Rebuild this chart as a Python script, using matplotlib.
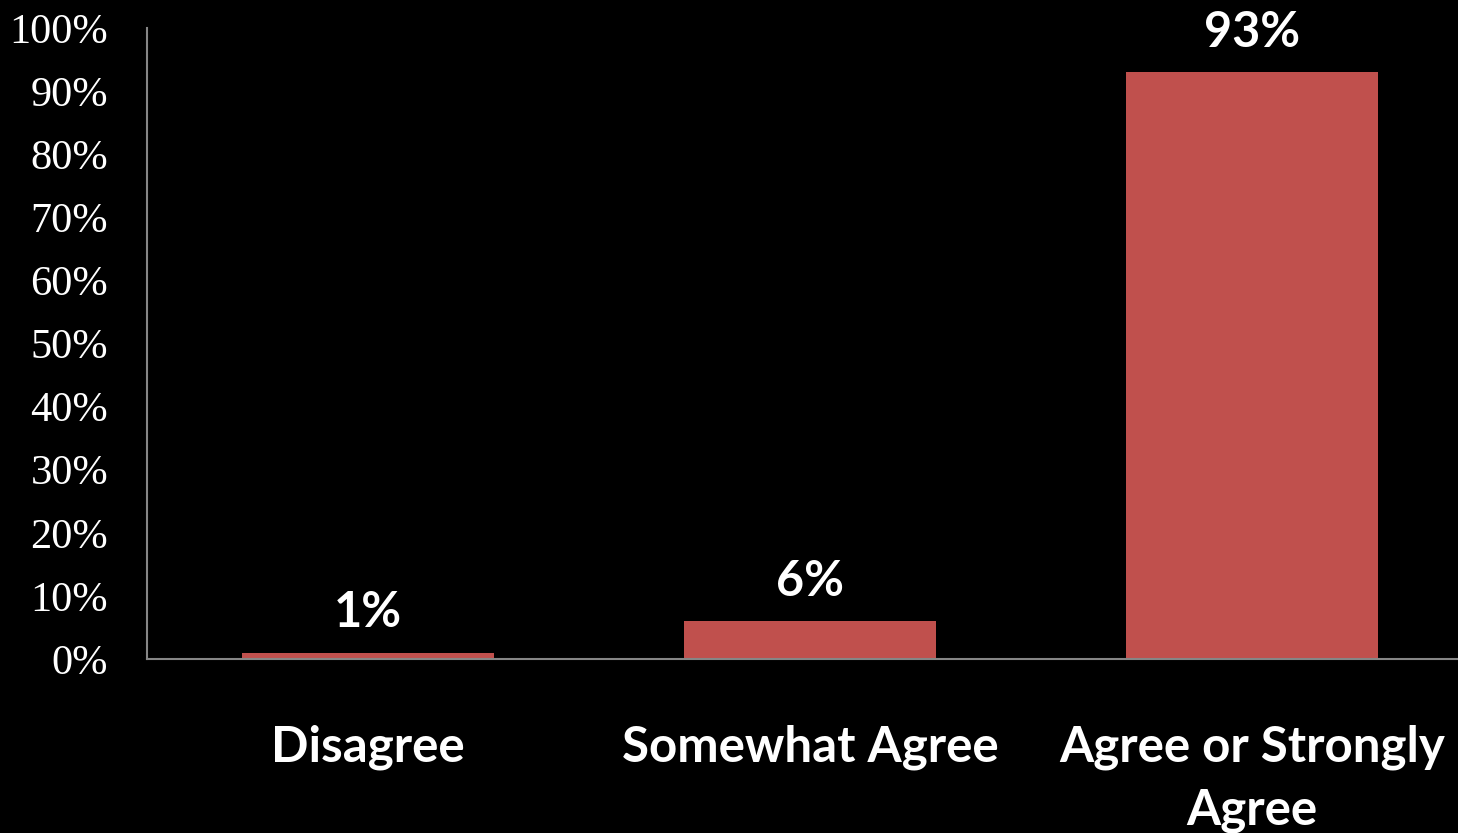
import matplotlib
matplotlib.use("Agg")
import matplotlib.pyplot as plt

# survey responses
categories = ["Disagree", "Somewhat Agree", "Agree or Strongly\nAgree"]
values = [1, 6, 93]
yticks = [0, 10, 20, 30, 40, 50, 60, 70, 80, 90, 100]

barColor = "#C0504D"
axisColor = "#868686"

fig = plt.figure(figsize=(14.58, 8.33), dpi=100, facecolor="black")
ax = fig.add_axes([147/1458, (833-659)/833, (1473-147)/1458, (659-28)/833])
ax.set_facecolor("black")

x = range(len(values))
ax.bar(x, values, width=0.57, color=barColor, zorder=2)

ax.set_xlim(-0.5, 2.5)
ax.set_ylim(0, 100)
ax.set_yticks(yticks)
ax.set_yticklabels(["%d%%" % t for t in yticks], family="Liberation Serif",
                   fontsize=30.5, color="white")
ax.tick_params(axis="y", length=0, pad=28)
ax.set_xticks([])

for side in ["top", "right"]:
    ax.spines[side].set_visible(False)
for side in ["left", "bottom"]:
    ax.spines[side].set_color(axisColor)
    ax.spines[side].set_linewidth(1.5)

# value labels above the bars
for i, v in enumerate(values):
    ax.annotate("%d%%" % v, xy=(i, v), xytext=(0, 40), textcoords="offset pixels",
                ha="center", va="center", fontsize=35, fontweight="bold",
                family="Lato", color="white")

# category labels under the axis
for i, c in enumerate(categories):
    ax.annotate(c, xy=(i, 0), xytext=(0, -66), textcoords="offset pixels",
                ha="center", va="top", fontsize=35.5, fontweight="bold",
                family="Lato", color="white", linespacing=1.46,
                annotation_clip=False)

fig.savefig("out.png", dpi=100, facecolor="black")
